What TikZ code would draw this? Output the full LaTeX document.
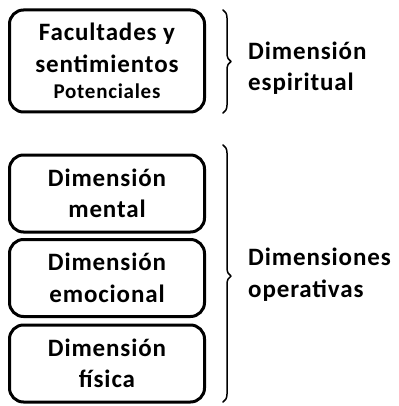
\documentclass[tikz,border=0pt]{standalone}
\usepackage{fontspec}
\setmainfont{Carlito}[LetterSpace=3.5]
\usetikzlibrary{decorations.pathreplacing}
\begin{document}
\begin{tikzpicture}[x=1pt,y=-1pt,line join=round,line cap=round,font=\bfseries\fontsize{25}{31.5}\selectfont,
	caja/.style={draw,line width=3pt,rounded corners=14pt,minimum width=195pt,align=center,inner sep=0pt},
	llave/.style={decorate,decoration={brace,amplitude=8pt,aspect=#1},line width=1.5pt},
	rotulo/.style={anchor=base west,align=left,inner sep=0pt}]
	\useasboundingbox (0,0) rectangle (398,406);
	% caja superior
	\node[caja,minimum height=102pt] (facultades) at (107,61)
		{Facultades y\\sentimientos\\[-5pt]{\fontsize{21}{23}\selectfont Potenciales}};
	% cajas inferiores
	\node[caja,minimum height=77pt] (mental) at (107,193.5) {Dimensión\\mental};
	\node[caja,minimum height=77pt] (emocional) at (107,278) {Dimensión\\emocional};
	\node[caja,minimum height=77pt] (fisica) at (107,363.5) {Dimensión\\física};
	% llaves
	\coordinate (e1) at (223,10);
	\coordinate (e2) at (223,113);
	\coordinate (o1) at (223,145);
	\coordinate (o2) at (223,402);
	\draw[llave=0.5] (e1) -- (e2);
	\draw[llave=0.51] (o1) -- (o2);
	% rotulos
	\node[rotulo] (espiritual) at (248,91) {Dimensión\\espiritual};
	\node[rotulo] (operativas) at (248,297) {Dimensiones\\operativas};
\end{tikzpicture}
\end{document}
